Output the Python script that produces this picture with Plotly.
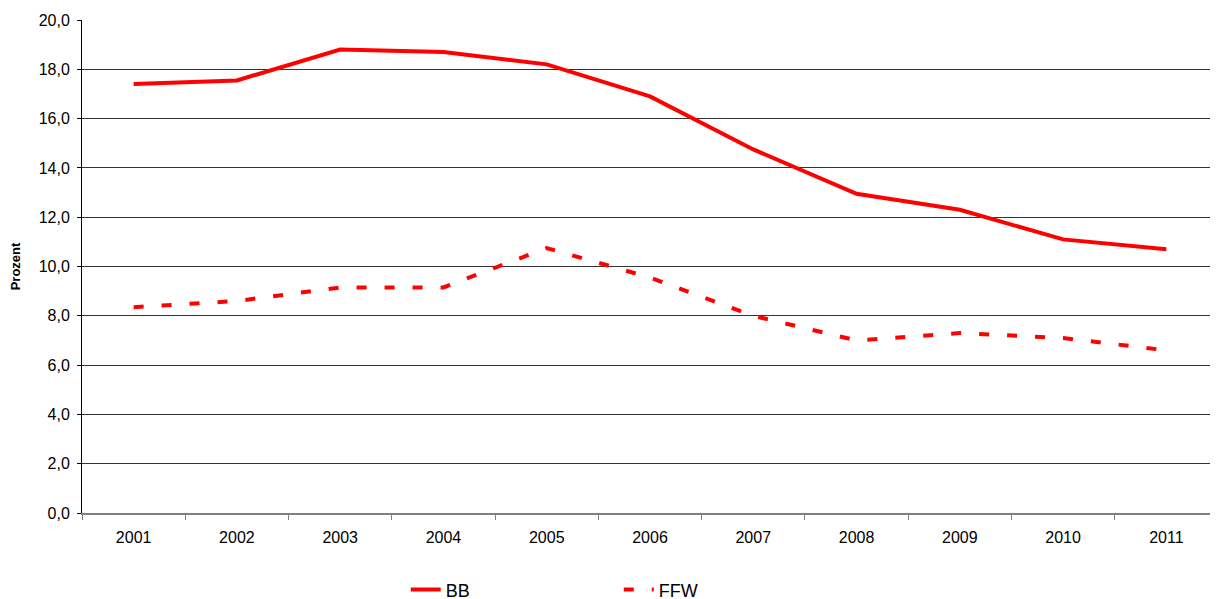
import plotly.graph_objects as go

years = ["2001", "2002", "2003", "2004", "2005", "2006", "2007", "2008", "2009", "2010", "2011"]
bb = [17.4, 17.55, 18.8, 18.7, 18.2, 16.9, 14.75, 12.95, 12.3, 11.1, 10.7]
ffw = [8.35, 8.6, 9.15, 9.15, 10.75, 9.55, 8.0, 7.0, 7.3, 7.1, 6.6]

fig = go.Figure()
fig.add_trace(go.Scatter(x=years, y=bb, name="BB", mode="lines",
                         line=dict(color="#FF0000", width=4)))
fig.add_trace(go.Scatter(x=years, y=ffw, name="FFW", mode="lines",
                         line=dict(color="#FF0000", width=4, dash="10px,18px")))

# page body has an 8px margin, so the figure starts at (8, 8)
fig.update_layout(
    width=1210, height=591,
    margin=dict(l=74, r=0, t=12, b=86, autoexpand=False),
    paper_bgcolor="white", plot_bgcolor="white",
    separators=",.",
    font=dict(family="Liberation Sans, Arial, sans-serif", size=16, color="black"),
    showlegend=True,
    legend=dict(orientation="h", x=0.285, xanchor="left", y=-0.156, yanchor="middle",
                font=dict(size=18), entrywidth=168, itemwidth=30),
)
fig.update_xaxes(type="category", tickson="boundaries", ticks="outside", ticklen=5,
                 tickcolor="#808080", showline=True, linecolor="#808080", linewidth=2,
                 showgrid=False, tickfont=dict(size=16), range=[-0.5, 10.5],
                 ticklabelstandoff=9)
fig.update_yaxes(range=[0, 20], dtick=2, tickformat=".1f", ticks="outside", ticklen=4,
                 tickcolor="black", showline=True, linecolor="black", linewidth=1,
                 showgrid=True, gridcolor="#333333", gridwidth=1, zeroline=False,
                 tickfont=dict(size=16), ticklabelstandoff=4,
                 title=dict(text="<b>Prozent</b>", font=dict(size=13), standoff=18))

fig.write_html("out.html")
